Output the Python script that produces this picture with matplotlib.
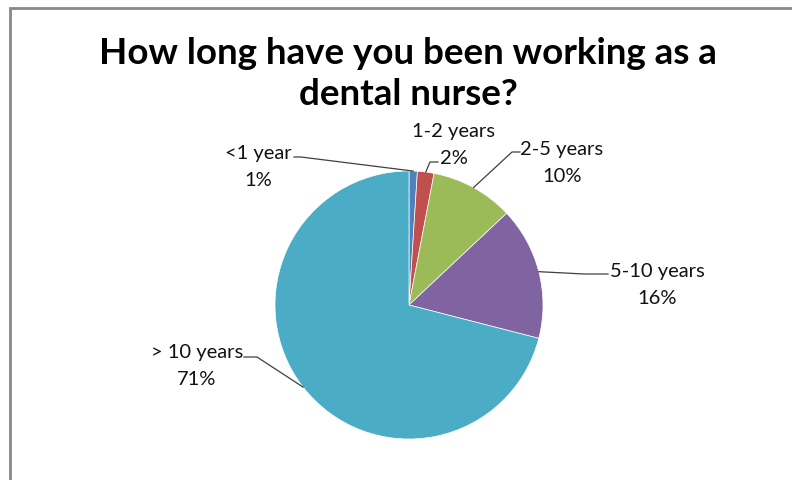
import matplotlib.pyplot as plt
import numpy as np
from matplotlib.patches import Rectangle

categories = ['<1 year', '1-2 years', '2-5 years', '5-10 years', '> 10 years']
shares = [1, 2, 10, 16, 71]
colours = ['#4F81BD', '#C0504D', '#9BBB59', '#8064A2', '#4BACC6']

# label text centres, leader start next to the text and the knee (pixels, y down)
label_pos = [(258, 167), (454, 145), (562, 163), (657, 285), (197, 366)]
leader_start = [(294, 158), (438, 163), (520, 153), (608, 275), (244, 358)]
leader_knee = [(301, 158), (430, 163), (512, 153), (584, 275), (257, 358)]

W, H = 792, 481
plt.rcParams['font.family'] = ['Lato', 'DejaVu Sans']

fig = plt.figure(figsize=(W / 100, H / 100), dpi=100)
ax = fig.add_axes([0, 0, 1, 1])
ax.axis('off')

# chart area frame
ax.add_patch(Rectangle((10, -5), W, H - 9 + 5, fill=False, ec='#888888', lw=2))

cx, cy, r = 409, H - 306, 134
wedges, _ = ax.pie(shares, colors=colours, startangle=90, counterclock=False,
                   center=(cx, cy), radius=r,
                   wedgeprops=dict(edgecolor='white', linewidth=0.5))
ax.set_aspect('equal')
ax.set_xlim(0, W)
ax.set_ylim(0, H)

ax.text(408, H - 74, 'How long have you been working as a\ndental nurse?',
        ha='center', va='center', fontsize=26.5, fontweight='bold',
        linespacing=1.3)

for w, name, pct, (tx, ty), (sx, sy), (kx, ky) in zip(
        wedges, categories, shares, label_pos, leader_start, leader_knee):
    mid = np.deg2rad((w.theta1 + w.theta2) / 2)
    ex, ey = cx + r * np.cos(mid), cy + r * np.sin(mid)
    ax.plot([sx, kx, ex], [H - sy, H - ky, ey], color='#404040', lw=0.9)
    ax.text(tx, H - ty, '%s\n%d%%' % (name, pct), ha='center', va='center',
            fontsize=14.5, linespacing=1.65, color='#111111')

fig.savefig('out.png', dpi=100)
